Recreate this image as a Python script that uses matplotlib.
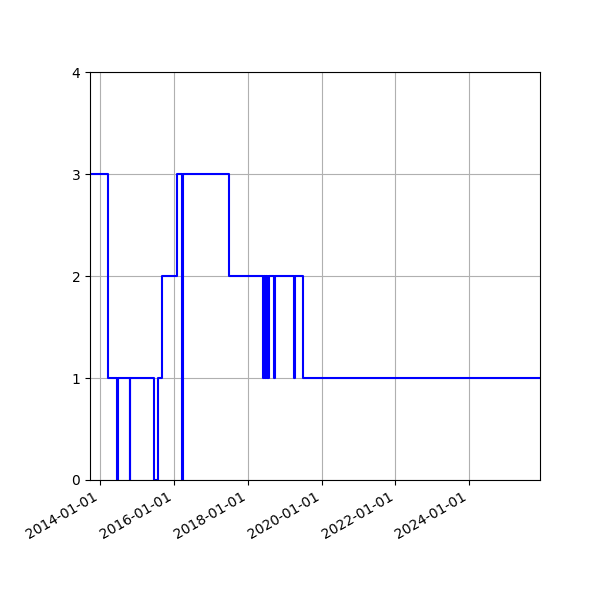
import numpy as np
import pandas as pd
import matplotlib
matplotlib.use("Agg")
import matplotlib.pyplot as plt
import matplotlib.dates as mdates

# change points of the step series (value holds until the next date)
dates = ['2013-09-24', '2014-03-24', '2014-06-23', '2014-06-28', '2014-10-20',
         '2014-10-24', '2015-06-22', '2015-08-01', '2015-09-05', '2016-02-06',
         '2016-03-26', '2016-03-31', '2017-06-29', '2018-06-01', '2018-06-10',
         '2018-06-18', '2018-06-28', '2018-07-06', '2018-07-16', '2018-07-20',
         '2018-07-27', '2018-09-22', '2018-09-26', '2019-04-08', '2019-04-12',
         '2019-06-30', '2025-12-01']
values = [3, 1, 0, 1, 0,
          1, 0, 1, 2, 3,
          0, 3, 2, 1, 2,
          1, 2, 1, 2, 1,
          2, 1, 2, 1, 2,
          1, 1]

t = pd.to_datetime(dates)

fig, ax = plt.subplots(figsize=(6, 6), dpi=100)
ax.step(t, values, where='post', color='blue', linewidth=1.5)

ax.set_xlim(t[0], t[-1])
ax.set_ylim(0, 4)
ax.set_yticks([0, 1, 2, 3, 4])
ax.xaxis.set_major_locator(mdates.YearLocator(2))
ax.xaxis.set_major_formatter(mdates.DateFormatter('%Y-%m-%d'))
ax.grid(True)

fig.autofmt_xdate()
fig.subplots_adjust(left=0.15, right=0.9, top=0.88, bottom=0.2)
plt.savefig('out.png', dpi=100)
